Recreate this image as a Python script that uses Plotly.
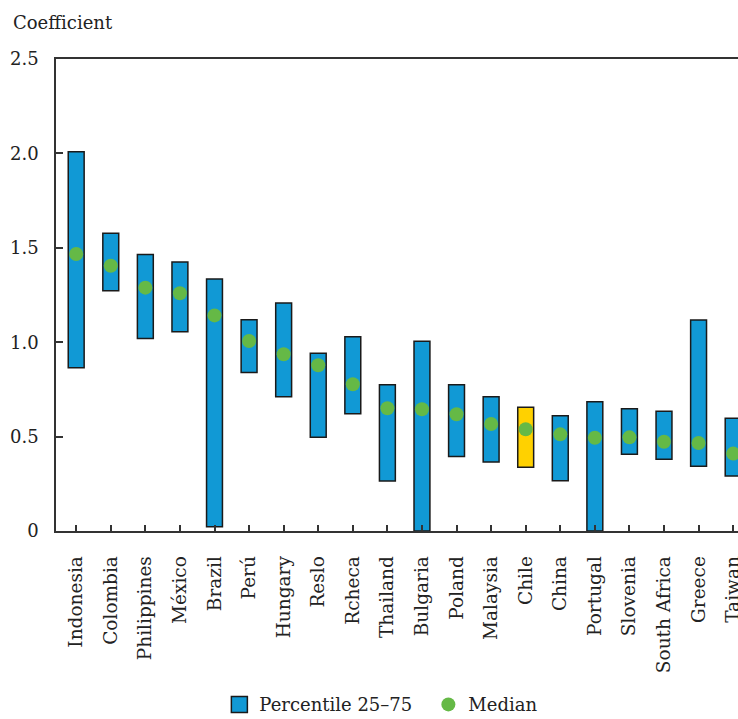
import plotly.graph_objects as go

countries = ["Indonesia", "Colombia", "Philippines", "México", "Brazil", "Perú",
             "Hungary", "Reslo", "Rcheca", "Thailand", "Bulgaria", "Poland",
             "Malaysia", "Chile", "China", "Portugal", "Slovenia", "South Africa",
             "Greece", "Taiwan"]
p25 = [0.865, 1.273, 1.019, 1.056, 0.023, 0.839, 0.711, 0.496, 0.621, 0.265,
       0.0, 0.394, 0.366, 0.337, 0.266, 0.0, 0.406, 0.380, 0.343, 0.291]
p75 = [2.009, 1.577, 1.464, 1.425, 1.335, 1.119, 1.208, 0.941, 1.029, 0.775,
       1.005, 0.775, 0.711, 0.655, 0.611, 0.685, 0.648, 0.634, 1.118, 0.597]
median = [1.467, 1.405, 1.289, 1.259, 1.142, 1.006, 0.936, 0.878, 0.777, 0.650,
          0.645, 0.618, 0.567, 0.539, 0.512, 0.494, 0.496, 0.473, 0.466, 0.410]
highlight = "Chile"
yticks = [0, 0.5, 1.0, 1.5, 2.0, 2.5]
ytick_text = ["0", "0.5", "1.0", "1.5", "2.0", "2.5"]

BLUE = "#1199d5"
YELLOW = "#ffd100"
GREEN = "#65b946"
FONT = "DejaVu Serif"

bar_colors = [YELLOW if c == highlight else BLUE for c in countries]

fig = go.Figure()
fig.add_trace(go.Bar(
    x=countries,
    y=[hi - lo for hi, lo in zip(p75, p25)],
    base=p25,
    width=0.46,
    marker=dict(color=bar_colors, line=dict(color="#1a1a1a", width=1.5)),
    showlegend=False,
    hoverinfo="skip",
))
fig.add_trace(go.Scatter(
    x=countries, y=median, mode="markers",
    marker=dict(color=GREEN, size=14),
    showlegend=False,
))
# legend entries
fig.add_trace(go.Scatter(
    x=[None], y=[None], mode="markers", name="Percentile 25–75",
    marker=dict(symbol="square", color=BLUE, size=16, line=dict(color="#1a1a1a", width=1.5)),
))
fig.add_trace(go.Scatter(
    x=[None], y=[None], mode="markers", name="Median",
    marker=dict(color=GREEN, size=14),
))

fig.update_layout(
    width=738, height=719,
    margin=dict(l=56, r=0, t=59, b=188, autoexpand=False),
    paper_bgcolor="white", plot_bgcolor="white",
    font=dict(family=FONT, size=18, color="#222"),
    showlegend=True,
    legend=dict(orientation="h", x=0.546, xanchor="center", y=-0.368, yanchor="middle",
                entrywidth=164,
                font=dict(family=FONT, size=18, color="#222"), itemclick=False),
    annotations=[dict(text="Coefficient", xref="paper", yref="paper", x=0, y=1,
                      xanchor="left", yanchor="middle", xshift=-45, yshift=37,
                      showarrow=False, font=dict(family=FONT, size=18, color="#222"))],
)
fig.update_xaxes(
    type="category", range=[-0.584, 19.14], automargin=False,
    showline=True, linecolor="#333", linewidth=1.5, mirror=True,
    ticks="inside", ticklen=6, tickcolor="#333", tickwidth=1.5,
    tickangle=-90, ticklabelstandoff=16, showgrid=False, zeroline=False,
    tickfont=dict(family=FONT, size=18.5, color="#222"),
)
fig.update_yaxes(
    range=[0, 2.5], tickvals=yticks, ticktext=ytick_text, automargin=False,
    showline=True, linecolor="#333", linewidth=1.5,
    ticks="inside", ticklen=7, tickcolor="#333", tickwidth=1.5,
    ticklabelstandoff=12, showgrid=False, zeroline=False,
)

fig.write_html("out.html", config={"displayModeBar": False},
               post_script="document.body.style.margin='0px';document.body.style.overflow='hidden';")
